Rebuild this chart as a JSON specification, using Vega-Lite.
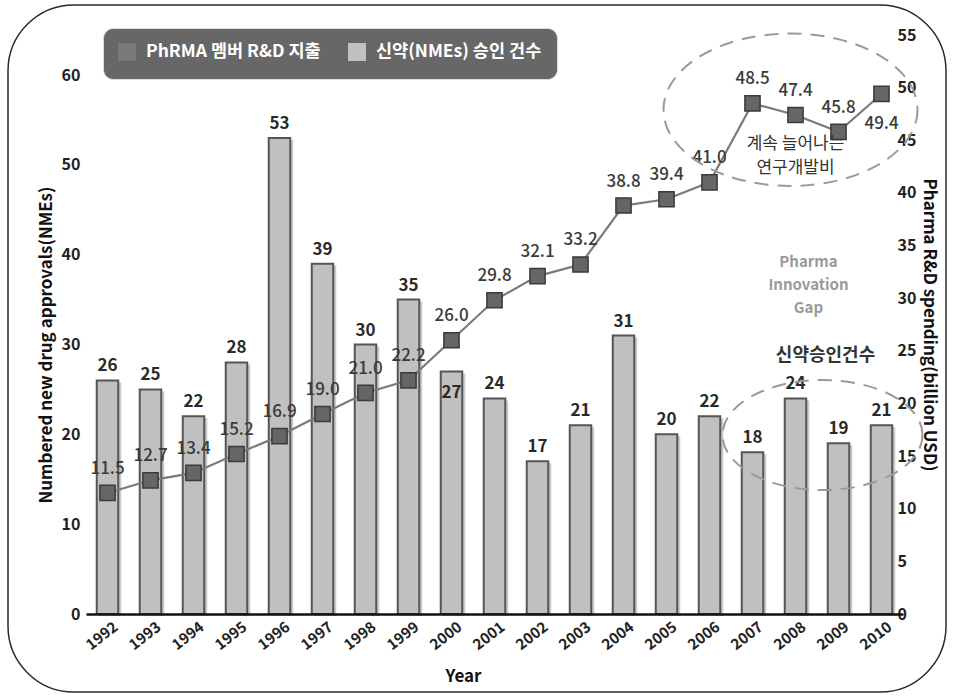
{
  "$schema": "https://vega.github.io/schema/vega-lite/v6.json",
  "width": 938,
  "height": 687,
  "autosize": {"type": "none"},
  "padding": {"left": 8, "top": 5, "right": 8, "bottom": 5},
  "background": "white",
  "config": {
    "font": "Noto Sans CJK KR",
    "view": {"stroke": "#2a2a2a", "strokeWidth": 1.5, "cornerRadius": 66},
    "axis": {
      "grid": false,
      "ticks": false,
      "tickSize": 0,
      "domain": false,
      "labelFont": "Noto Sans CJK KR",
      "labelFontWeight": "bold",
      "labelFontSize": 16,
      "labelColor": "#222222",
      "titleFont": "Noto Sans CJK KR",
      "titleFontWeight": "bold",
      "titleFontSize": 17,
      "titleColor": "#111111"
    }
  },
  "datasets": {
    "years": [
      {"year": "1992", "nme": 26, "spend": 11.5},
      {"year": "1993", "nme": 25, "spend": 12.7},
      {"year": "1994", "nme": 22, "spend": 13.4},
      {"year": "1995", "nme": 28, "spend": 15.2},
      {"year": "1996", "nme": 53, "spend": 16.9},
      {"year": "1997", "nme": 39, "spend": 19.0},
      {"year": "1998", "nme": 30, "spend": 21.0},
      {"year": "1999", "nme": 35, "spend": 22.2},
      {"year": "2000", "nme": 27, "spend": 26.0},
      {"year": "2001", "nme": 24, "spend": 29.8},
      {"year": "2002", "nme": 17, "spend": 32.1},
      {"year": "2003", "nme": 21, "spend": 33.2},
      {"year": "2004", "nme": 31, "spend": 38.8},
      {"year": "2005", "nme": 20, "spend": 39.4},
      {"year": "2006", "nme": 22, "spend": 41.0},
      {"year": "2007", "nme": 18, "spend": 48.5},
      {"year": "2008", "nme": 24, "spend": 47.4},
      {"year": "2009", "nme": 19, "spend": 45.8},
      {"year": "2010", "nme": 21, "spend": 49.4}
    ],
    "notes": [
      {"year": "2008", "spend": 44.65, "note": "계속 늘어나는", "kind": "rd"},
      {"year": "2008", "spend": 42.37, "note": "연구개발비", "kind": "rd"},
      {"year": "2008", "spend": 33.44, "note": "Pharma", "kind": "gap"},
      {"year": "2008", "spend": 31.25, "note": "Innovation", "kind": "gap"},
      {"year": "2008", "spend": 29.07, "note": "Gap", "kind": "gap"},
      {"year": "2009", "spend": 24.5, "note": "신약승인건수", "kind": "nme"}
    ],
    "rings": [
      {"year": "2008", "spend": 47.9, "ring": "rd"},
      {"year": "2009", "spend": 17.0, "ring": "nme"}
    ]
  },
  "data": {"name": "years"},
  "encoding": {
    "x": {
      "field": "year",
      "type": "ordinal",
      "scale": {"range": [78, 895], "paddingInner": 0.5, "paddingOuter": 0.25},
      "axis": {
        "title": "Year",
        "labelAngle": -38,
        "labelFontSize": 15,
        "labelPadding": 5,
        "labelOffset": 4,
        "offset": -78,
        "domain": true,
        "domainColor": "#111111",
        "domainWidth": 2.5,
        "zindex": 1,
        "titleX": 455,
        "titleY": 62,
        "titleBaseline": "middle"
      }
    }
  },
  "layer": [
    {
      "encoding": {
        "y": {
          "field": "nme",
          "type": "quantitative",
          "scale": {"domain": [0, 60], "range": [609, 70]},
          "axis": {
            "orient": "left",
            "title": "Numbered new drug approvals(NMEs)",
            "values": [0, 10, 20, 30, 40, 50, 60],
            "offset": -74,
            "labelPadding": 2,
            "titlePadding": 6
          }
        }
      },
      "layer": [
        {
          "mark": {"type": "bar", "xOffset": 3, "yOffset": 2, "fill": "#8a8a8a", "opacity": 0.45}
        },
        {
          "mark": {"type": "bar", "stroke": "#555555", "strokeWidth": 2},
          "encoding": {
            "color": {
              "datum": "신약(NMEs) 승인 건수",
              "type": "nominal",
              "scale": {
                "domain": ["PhRMA 멤버 R&D 지출", "신약(NMEs) 승인 건수"],
                "range": ["#7a7a7a", "#c0c0c0"]
              },
              "legend": {
                "title": null,
                "orient": "none",
                "legendX": 95,
                "legendY": 23,
                "direction": "horizontal",
                "fillColor": "#676767",
                "strokeColor": "#dddddd",
                "cornerRadius": 10,
                "padding": 15,
                "columnPadding": 24,
                "symbolType": "square",
                "symbolSize": 256,
                "symbolStrokeWidth": 2,
                "symbolStrokeColor": "#3a3a3a",
                "labelColor": "white",
                "labelFont": "Noto Sans CJK KR",
                "labelFontWeight": "bold",
                "labelFontSize": 17.5,
                "labelLimit": 400,
                "labelOffset": 10,
                "encode": {
                  "symbols": {
                    "update": {
                      "fill": {"signal": "datum.value === 'PhRMA 멤버 R&D 지출' ? '#5f5f5f' : '#c4c4c4'"},
                      "stroke": {"value": "#3a3a3a"},
                      "strokeWidth": {"value": 2},
                      "opacity": {"value": 1}
                    }
                  }
                }
              }
            }
          }
        },
        {
          "transform": [{"filter": "datum.year !== '2000'"}],
          "mark": {"type": "text", "baseline": "alphabetic", "dy": -9, "fontSize": 17, "fontWeight": "bold", "color": "#2a2a2a"},
          "encoding": {"text": {"field": "nme", "type": "quantitative"}}
        },
        {
          "transform": [{"filter": "datum.year === '2000'"}],
          "mark": {"type": "text", "baseline": "alphabetic", "dy": 27, "fontSize": 17, "fontWeight": "bold", "color": "#2a2a2a"},
          "encoding": {"text": {"field": "nme", "type": "quantitative"}}
        }
      ]
    },
    {
      "encoding": {
        "y": {
          "field": "spend",
          "type": "quantitative",
          "scale": {"domain": [0, 55], "range": [609, 30]},
          "axis": {
            "orient": "right",
            "title": "Pharma R&D spending(billion USD)",
            "values": [0, 5, 10, 15, 20, 25, 30, 35, 40, 45, 50, 55],
            "offset": -51,
            "labelPadding": 2,
            "titlePadding": 4
          }
        }
      },
      "layer": [
        {
          "mark": {"type": "line", "strokeWidth": 2.2},
          "encoding": {"color": {"datum": "PhRMA 멤버 R&D 지출", "type": "nominal"}}
        },
        {
          "mark": {"type": "point", "shape": "square", "filled": true, "size": 230, "fill": "#666666", "stroke": "#3a3a3a", "strokeWidth": 1.5, "opacity": 1}
        },
        {
          "transform": [{"filter": "datum.year !== '2010'"}],
          "mark": {"type": "text", "baseline": "middle", "dy": -24, "fontSize": 17, "fontWeight": 500, "color": "#3a3a3a"},
          "encoding": {"text": {"field": "spend", "type": "quantitative", "format": ".1f"}}
        },
        {
          "transform": [{"filter": "datum.year === '2010'"}],
          "mark": {"type": "text", "baseline": "middle", "dy": 30, "fontSize": 17, "fontWeight": 500, "color": "#3a3a3a"},
          "encoding": {"text": {"field": "spend", "type": "quantitative", "format": ".1f"}}
        },
        {
          "data": {"name": "rings"},
          "transform": [{"filter": "datum.ring === 'rd'"}],
          "mark": {
            "type": "point",
            "shape": "M 1 0 C 1 0.331 0.552 0.6 0 0.6 C -0.552 0.6 -1 0.331 -1 0 C -1 -0.331 -0.552 -0.6 0 -0.6 C 0.552 -0.6 1 -0.331 1 0 Z",
            "filled": false,
            "size": 64516,
            "stroke": "#9a9a9a",
            "strokeWidth": 2,
            "strokeDash": [14, 9],
            "opacity": 1,
            "xOffset": -5
          }
        },
        {
          "data": {"name": "rings"},
          "transform": [{"filter": "datum.ring === 'nme'"}],
          "mark": {
            "type": "point",
            "shape": "M 1 0 C 1 0.304 0.552 0.55 0 0.55 C -0.552 0.55 -1 0.304 -1 0 C -1 -0.304 -0.552 -0.55 0 -0.55 C 0.552 -0.55 1 -0.304 1 0 Z",
            "filled": false,
            "size": 40000,
            "stroke": "#9a9a9a",
            "strokeWidth": 2,
            "strokeDash": [14, 9],
            "opacity": 1,
            "xOffset": -16
          }
        },
        {
          "data": {"name": "notes"},
          "transform": [{"filter": "datum.kind === 'rd'"}],
          "mark": {"type": "text", "baseline": "middle", "fontSize": 17, "color": "#333333"},
          "encoding": {"text": {"field": "note", "type": "nominal"}}
        },
        {
          "data": {"name": "notes"},
          "transform": [{"filter": "datum.kind === 'gap'"}],
          "mark": {"type": "text", "baseline": "middle", "dx": 13, "fontSize": 15, "fontWeight": "bold", "color": "#9a9a9a"},
          "encoding": {"text": {"field": "note", "type": "nominal"}}
        },
        {
          "data": {"name": "notes"},
          "transform": [{"filter": "datum.kind === 'nme'"}],
          "mark": {"type": "text", "baseline": "middle", "dx": -13, "fontSize": 18, "fontWeight": "bold", "color": "#333333"},
          "encoding": {"text": {"field": "note", "type": "nominal"}}
        }
      ]
    }
  ],
  "resolve": {"scale": {"y": "independent"}}
}
